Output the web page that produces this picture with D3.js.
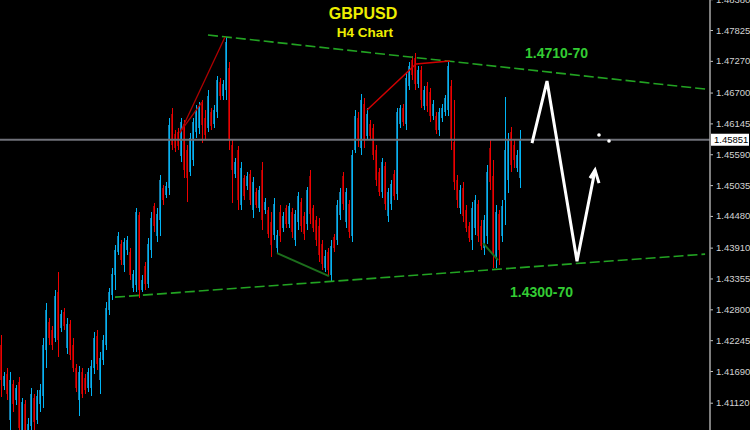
<!DOCTYPE html>
<html><head><meta charset="utf-8">
<script src="https://cdn.jsdelivr.net/npm/d3@7"></script>
<style>html,body{margin:0;padding:0;background:#000;overflow:hidden}</style>
</head><body><svg id="c" width="750" height="430"></svg>
<script>
// ---- data (GBPUSD H4 candles) ----
const opens=[1.42155,1.41417,1.41633,1.40805,1.41453,1.41165,1.41489,1.40625,1.41093,1.40445,1.40697,1.41201,1.40805,1.41093,1.41237,1.42065,1.42569,1.42425,1.42281,1.43109,1.42461,1.42749,1.42101,1.42533,1.42155,1.41741,1.41165,1.41669,1.41561,1.41381,1.41381,1.41741,1.42317,1.41525,1.41885,1.42155,1.42785,1.43055,1.43415,1.43829,1.43973,1.43595,1.43865,1.43829,1.43181,1.43235,1.44495,1.43145,1.43577,1.43253,1.43865,1.44657,1.44117,1.44405,1.44981,1.44855,1.44981,1.46313,1.45953,1.45989,1.45557,1.46133,1.45665,1.45269,1.45485,1.45989,1.46061,1.46493,1.46241,1.46061,1.46349,1.46133,1.46349,1.46889,1.46637,1.46745,1.47141,1.45755,1.45233,1.45665,1.44675,1.45161,1.45017,1.45233,1.44585,1.44909,1.44621,1.45305,1.44585,1.44585,1.44369,1.44135,1.43901,1.44549,1.44261,1.44621,1.44333,1.44549,1.44045,1.44369,1.44729,1.44477,1.44333,1.45197,1.44621,1.44405,1.44297,1.43973,1.43541,1.43829,1.43415,1.44099,1.44045,1.44495,1.45197,1.44369,1.44693,1.44117,1.45665,1.46241,1.45701,1.46493,1.45917,1.46133,1.46061,1.45665,1.45269,1.44909,1.45377,1.44477,1.44693,1.45233,1.44873,1.46133,1.46421,1.46133,1.46817,1.47285,1.47321,1.46853,1.47105,1.46457,1.46817,1.46709,1.46277,1.46277,1.46025,1.46241,1.46349,1.46385,1.46817,1.45809,1.45125,1.44621,1.44981,1.44585,1.44297,1.44045,1.44261,1.44693,1.44297,1.43901,1.44117,1.45701,1.45197,1.43721,1.44513,1.44117,1.44765,1.45125,1.45989,1.45755,1.45341,1.45161];
const highs=[1.42335,1.41669,1.41741,1.41669,1.41525,1.41435,1.41579,1.41201,1.41165,1.40841,1.41381,1.41273,1.41345,1.41453,1.42281,1.42911,1.42641,1.42497,1.43145,1.43469,1.42785,1.42821,1.42641,1.42605,1.42281,1.41813,1.41777,1.41741,1.41633,1.41741,1.41885,1.42389,1.42425,1.42029,1.42335,1.42929,1.43181,1.43541,1.43955,1.44189,1.44045,1.44081,1.44117,1.43901,1.43505,1.44621,1.44549,1.43415,1.43649,1.44081,1.44549,1.44711,1.44621,1.45215,1.45035,1.45089,1.46241,1.46421,1.46025,1.46061,1.46241,1.46205,1.45755,1.45971,1.46241,1.46475,1.46529,1.46565,1.46385,1.46745,1.46421,1.46475,1.46997,1.46961,1.46925,1.47699,1.47249,1.45845,1.45521,1.45737,1.45449,1.45215,1.45269,1.45305,1.45179,1.44981,1.45017,1.45449,1.44801,1.44639,1.44549,1.44801,1.44225,1.44675,1.44549,1.44675,1.44711,1.44621,1.44585,1.44909,1.44801,1.44549,1.44999,1.45305,1.44675,1.44477,1.44441,1.44045,1.43865,1.43901,1.44045,1.44153,1.44765,1.44981,1.45269,1.44981,1.44765,1.45665,1.46385,1.46349,1.46673,1.46601,1.46421,1.46205,1.46133,1.45755,1.45341,1.45521,1.45449,1.44981,1.45125,1.45305,1.46421,1.46475,1.46493,1.47069,1.47249,1.47357,1.47411,1.47177,1.47177,1.46817,1.46889,1.46781,1.46565,1.46349,1.46421,1.46493,1.46655,1.47267,1.46925,1.46565,1.45215,1.45035,1.45089,1.44675,1.44369,1.44729,1.44855,1.44765,1.44405,1.44495,1.45395,1.45845,1.45485,1.44675,1.44585,1.44765,1.46619,1.45971,1.46079,1.45845,1.45665,1.46025];
const lows=[1.41219,1.41345,1.41165,1.40589,1.40949,1.41075,1.40481,1.40409,1.40301,1.40337,1.40445,1.40589,1.40733,1.40949,1.41021,1.41741,1.42155,1.42065,1.42209,1.41939,1.42389,1.42425,1.41993,1.41885,1.41669,1.41309,1.40877,1.41201,1.41273,1.41309,1.41237,1.41633,1.41705,1.41273,1.41795,1.42065,1.42695,1.42965,1.43145,1.43775,1.43595,1.43469,1.43775,1.43325,1.43109,1.43109,1.43001,1.43109,1.43145,1.43181,1.43721,1.44189,1.44009,1.44117,1.44675,1.44801,1.44855,1.45665,1.45629,1.45665,1.45449,1.45161,1.44729,1.45197,1.45377,1.45881,1.45953,1.45791,1.45845,1.45989,1.46025,1.46061,1.46241,1.46565,1.46565,1.46565,1.45665,1.44711,1.45161,1.44585,1.44585,1.44765,1.44945,1.44675,1.44441,1.44621,1.44549,1.44225,1.44513,1.44081,1.43739,1.44045,1.43793,1.44009,1.44189,1.44261,1.44261,1.44081,1.43937,1.44225,1.44189,1.44045,1.44225,1.44333,1.44189,1.43937,1.43649,1.43505,1.43469,1.43415,1.43307,1.43829,1.43955,1.44405,1.44585,1.44261,1.44081,1.44009,1.45611,1.45719,1.45575,1.45701,1.45845,1.45845,1.45485,1.45017,1.44837,1.44801,1.44585,1.44369,1.44585,1.44765,1.44765,1.46061,1.46097,1.46025,1.46745,1.46925,1.46745,1.46781,1.46421,1.46385,1.46349,1.46169,1.46205,1.45953,1.45917,1.46169,1.46277,1.46277,1.45665,1.44945,1.44621,1.44513,1.44369,1.44189,1.44009,1.43865,1.44135,1.44009,1.43865,1.43775,1.43973,1.44945,1.43541,1.43541,1.43595,1.44009,1.44315,1.44891,1.45269,1.45341,1.45269,1.44981];
const closes=[1.41525,1.41597,1.41273,1.41525,1.41093,1.41381,1.40661,1.41129,1.40445,1.40733,1.41273,1.40769,1.41237,1.41345,1.42155,1.42785,1.42281,1.42155,1.43037,1.42245,1.42713,1.42497,1.42533,1.41975,1.41741,1.41381,1.41669,1.41273,1.41345,1.41669,1.41777,1.42281,1.41813,1.41921,1.42245,1.42821,1.43109,1.43433,1.43865,1.44117,1.43685,1.44009,1.44045,1.43415,1.43433,1.44549,1.43145,1.43325,1.43253,1.43973,1.44441,1.44297,1.44513,1.45125,1.44765,1.45017,1.46115,1.45755,1.45701,1.45737,1.46169,1.45305,1.45161,1.45881,1.46169,1.46385,1.46457,1.46115,1.45935,1.46637,1.46097,1.46385,1.46925,1.46637,1.46853,1.47609,1.45845,1.45305,1.45449,1.44765,1.45341,1.44837,1.45197,1.44765,1.45089,1.44675,1.44945,1.44405,1.44729,1.44153,1.43955,1.44693,1.44135,1.44117,1.44477,1.44333,1.44657,1.44189,1.44513,1.44837,1.44297,1.44153,1.44945,1.44513,1.44261,1.44045,1.43775,1.43613,1.43757,1.43505,1.43937,1.43901,1.44675,1.44909,1.44693,1.44909,1.44189,1.45575,1.46277,1.45845,1.46565,1.45845,1.46313,1.45917,1.45575,1.45125,1.44909,1.45449,1.44693,1.44909,1.45053,1.44837,1.46349,1.46421,1.46169,1.46961,1.47177,1.47015,1.46853,1.47105,1.46565,1.46745,1.46457,1.46277,1.46493,1.46025,1.46349,1.46421,1.46601,1.47177,1.45845,1.45089,1.44765,1.44945,1.44477,1.44261,1.44081,1.44621,1.44765,1.44117,1.43937,1.44405,1.45269,1.45089,1.43775,1.44549,1.43865,1.44657,1.45665,1.45845,1.45395,1.45485,1.45575,1.45851];
const yTicks=[1.48380,1.47825,1.47270,1.46700,1.46145,1.45590,1.45035,1.44480,1.43910,1.43355,1.42800,1.42245,1.41690,1.41120];
const currentPrice=1.45851;
// drawn objects: [bar index, price]
const upperChannel=[[69,1.47735],[234.7,1.46763]];
const lowerChannel=[[38,1.43019],[234.7,1.43793]];
const redLineA=[[59.67,1.45971],[74.67,1.47699]];
const redLineB=[[59.67,1.45989],[67,1.46529]];
const redLineC=[[122,1.46385],[138.33,1.47213],[149.67,1.47267]];
const greenLineA=[[92,1.43811],[109.33,1.43397]];
const greenLineB=[[160.67,1.43991],[165.67,1.43685]];
const arrowPath=[[177,1.45791],[182,1.46907],[192,1.43667],[198,1.45305]];
const arrowHead=[[196.33,1.45161],[198,1.45305],[199.33,1.45071]];
const dots=[[199.33,1.45935],[202.67,1.45827]];
const labels=[{t:"1.4710-70",i:174.67,p:1.47321},{t:"1.4300-70",i:169.67,p:1.43019}];

// ---- chart ----
const svg=d3.select("#c");
svg.append("rect").attr("width",750).attr("height",430).attr("fill","#000");
const x=d3.scaleLinear().domain([0,236]).range([1,709]);
const y=d3.scaleLinear().domain([1.40629,1.48365]).range([430,0]);
const data=opens.map((o,i)=>({i,o,h:highs[i],l:lows[i],c:closes[i]}));
const g=svg.append("g").attr("shape-rendering","crispEdges");
g.selectAll(".b").data(data).join("rect")
 .attr("x",d=>x(d.i)-1).attr("width",2)
 .attr("y",d=>y(Math.max(d.o,d.c))).attr("height",d=>Math.max(1,Math.abs(y(d.o)-y(d.c))))
 .attr("fill",d=>d.c>=d.o?"#1479a6":"#9a0000");
g.selectAll(".w").data(data).join("rect")
 .attr("x",d=>x(d.i)).attr("width",1)
 .attr("y",d=>y(d.h)).attr("height",d=>Math.max(1,y(d.l)-y(d.h)))
 .attr("fill",d=>d.c>=d.o?"#00b4f5":"#ee0000");

// current price line
svg.append("line").attr("x1",0).attr("x2",710).attr("y1",y(currentPrice)).attr("y2",y(currentPrice))
 .attr("stroke","#6f7179").attr("stroke-width",2);

const line=d3.line().x(d=>x(d[0])).y(d=>y(d[1]));
[upperChannel,lowerChannel].forEach(p=>svg.append("path").attr("d",line(p)).attr("fill","none")
 .attr("stroke","#22a322").attr("stroke-width",1.6).attr("stroke-dasharray","10,4"));
svg.append("path").attr("d",line(redLineA)).attr("fill","none").attr("stroke","#b00000").attr("stroke-width",1.3);
svg.append("path").attr("d",line(redLineB)).attr("fill","none").attr("stroke","#b00000").attr("stroke-width",1.3);
svg.append("path").attr("d",line(redLineC)).attr("fill","none").attr("stroke","#d00000").attr("stroke-width",1.5);
[greenLineA,greenLineB].forEach(p=>svg.append("path").attr("d",line(p)).attr("fill","none")
 .attr("stroke","#1c6e1c").attr("stroke-width",2));
svg.append("path").attr("d",line(arrowPath)).attr("fill","none").attr("stroke","#fff").attr("stroke-width",3).attr("stroke-linejoin","miter");
svg.append("path").attr("d",line(arrowHead)).attr("fill","none").attr("stroke","#fff").attr("stroke-width",3);
svg.selectAll(".dot").data(dots).join("circle").attr("cx",d=>x(d[0])).attr("cy",d=>y(d[1])).attr("r",1.8).attr("fill","#fff");

// labels
svg.selectAll(".lab").data(labels).join("text").attr("x",d=>x(d.i)).attr("y",d=>y(d.p))
 .attr("fill","#33cc33").attr("font-family","Liberation Sans, Arial, sans-serif").attr("font-weight","bold")
 .attr("font-size",14).text(d=>d.t);
svg.append("text").attr("x",363).attr("y",19).attr("text-anchor","middle").attr("fill","#eeee00")
 .attr("font-family","Liberation Sans, Arial, sans-serif").attr("font-weight","bold").attr("font-size",16).text("GBPUSD");
svg.append("text").attr("x",365).attr("y",37).attr("text-anchor","middle").attr("fill","#eeee00")
 .attr("font-family","Liberation Sans, Arial, sans-serif").attr("font-weight","bold").attr("font-size",13.5).text("H4 Chart");

// axis
const ax=svg.append("g").attr("transform","translate(710,0)")
 .call(d3.axisRight(y).tickValues(yTicks).tickSize(3).tickPadding(3).tickFormat(d3.format(".5f")));
ax.select(".domain").remove();
ax.selectAll(".tick line").attr("stroke","#c0c0c0");
ax.selectAll(".tick text").attr("fill","#d2d2d2").attr("font-family","Liberation Sans, Arial, sans-serif").attr("font-size",9.5);
svg.append("line").attr("x1",710).attr("x2",710).attr("y1",0).attr("y2",430).attr("stroke","#a8a8a8").attr("stroke-width",1.5);
svg.append("rect").attr("x",711).attr("y",y(currentPrice)-6).attr("width",38).attr("height",12).attr("fill","#fff");
svg.append("text").attr("x",714).attr("y",y(currentPrice)).attr("dy","0.35em").attr("fill","#000")
 .attr("font-family","Liberation Sans, Arial, sans-serif").attr("font-size",9.5).text(d3.format(".5f")(currentPrice));
</script></body></html>
